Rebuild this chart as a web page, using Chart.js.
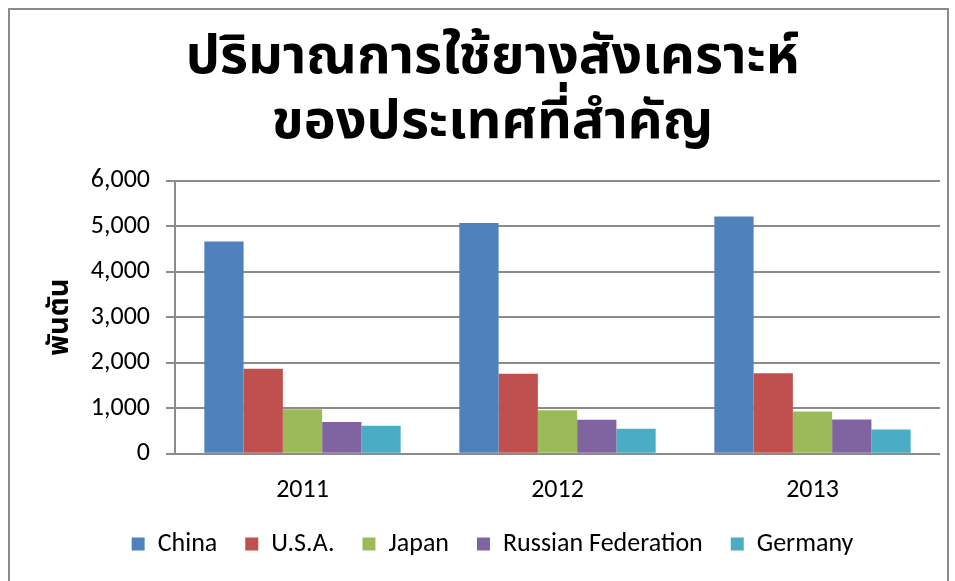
<!DOCTYPE html>
<html>
<head>
<meta charset="utf-8">
<script src="https://cdn.jsdelivr.net/npm/chart.js@4.4.0/dist/chart.umd.min.js"></script>
<style>
  html, body { margin: 0; padding: 0; background: #fff; }
  #wrap { position: relative; width: 955px; height: 581px; }
  #frame { position: absolute; left: 8px; top: 8px; width: 941px; height: 600px; border: 2px solid #8a8a8a; box-sizing: border-box; }
  canvas { position: absolute; left: 0; top: 0; }
</style>
</head>
<body>
<div id="wrap">
  <div id="frame"></div>
  <canvas id="rubberChart" width="955" height="581"></canvas>
</div>
<script>
// ข้อมูลปริมาณการใช้ยางสังเคราะห์ (พันตัน)
const years = ['2011', '2012', '2013'];
const china = [4660, 5070, 5210];
const usa = [1870, 1760, 1770];
const japan = [980, 955, 930];
const russia = [700, 750, 755];
const germany = [615, 550, 535];
const yTicks = [0, 1000, 2000, 3000, 4000, 5000, 6000];

const thaiFont = "'Noto Sans Thai', 'Noto Sans Thai Looped', Loma, Garuda, 'Noto Sans', sans-serif";
const latinFont = "Carlito, Lato, 'Noto Sans', sans-serif";

function makeSet(label, data, color) {
  return {
    label: label,
    data: data,
    backgroundColor: color,
    borderColor: color,
    borderWidth: 0,
    categoryPercentage: 0.77,
    barPercentage: 1.0
  };
}

const ctx = document.getElementById('rubberChart').getContext('2d');
const chart = new Chart(ctx, {
  type: 'bar',
  data: {
    labels: years,
    datasets: [
      makeSet('China', china, '#4F81BD'),
      makeSet('U.S.A.', usa, '#C0504D'),
      makeSet('Japan', japan, '#9BBB59'),
      makeSet('Russian Federation', russia, '#8064A2'),
      makeSet('Germany', germany, '#4BACC6')
    ]
  },
  options: {
    responsive: false,
    animation: false,
    layout: { padding: { left: 45, right: 15, top: 30, bottom: 14 } },
    plugins: {
      title: {
        display: true,
        text: ['ปริมาณการใช้ยางสังเคราะห์', 'ของประเทศที่สำคัญ'],
        color: '#000',
        font: { family: thaiFont, size: 54, weight: 'bold', lineHeight: 1.2 },
        padding: { top: 0, bottom: 21 }
      },
      legend: {
        position: 'bottom',
        labels: {
          color: '#000',
          boxWidth: 13,
          boxHeight: 13,
          padding: 28,
          font: { family: latinFont, size: 26 }
        }
      },
      tooltip: { enabled: false }
    },
    scales: {
      x: {
        afterFit: function (scale) {
          scale.height = scale.height - 16;
        },
        grid: { display: false },
        border: { display: false },
        ticks: { color: '#000', padding: 13, font: { family: latinFont, size: 26 } }
      },
      y: {
        min: 0,
        max: 6000,
        afterBuildTicks: function (scale) {
          scale.ticks = yTicks.map(v => ({ value: v }));
        },
        afterFit: function (scale) {
          scale.width = 130;
        },
        grid: { color: '#8c8c8c', lineWidth: 2, tickLength: 9 },
        border: { color: '#8c8c8c', width: 2 },
        ticks: {
          color: '#000',
          padding: 16,
          font: { family: latinFont, size: 26 },
          callback: v => v.toLocaleString('en-US')
        },
        title: {
          display: true,
          text: 'พันตัน',
          color: '#000',
          font: { family: thaiFont, size: 29, weight: 'bold' },
          padding: { top: 0, bottom: 0 }
        }
      }
    }
  }
});
</script>
</body>
</html>
